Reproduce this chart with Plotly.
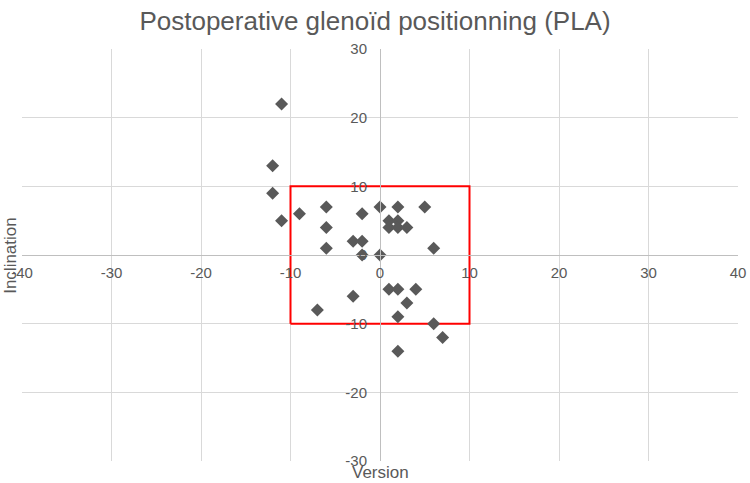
import plotly.graph_objects as go

version = [-11, -12, -12, -11, -9, -6, -6, -6, -2, -3, -2, -2, 0, 0, 2, 1, 2, 1, 2, 3, 5, 6,
           1, 2, 4, -3, 3, -7, 2, 6, 7, 2]
inclination = [22, 13, 9, 5, 6, 7, 4, 1, 6, 2, 2, 0, 0, 7, 7, 5, 5, 4, 4, 4, 7, 1,
               -5, -5, -5, -6, -7, -8, -9, -10, -12, -14]

box_x = [-10, 10, 10, -10, -10]
box_y = [-10, -10, 10, 10, -10]

x_ticks = [-40, -30, -20, -10, 0, 10, 20, 30, 40]
x_ticktext = ["-40", "-30", "-20", "-10", "0", "10", "20", "30", "40"]
y_ticks = [-30, -20, -10, 0, 10, 20, 30]
y_ticktext = ["-30", "-20", "-10", "0", "10", "20", "30"]

title = "Postoperative glenoïd positionning (PLA)"
x_title = "Version"
y_title = "Inclination"

grey = "#595959"
font = "Liberation Sans, Arial, sans-serif"

fig = go.Figure()
fig.add_trace(go.Scatter(x=box_x, y=box_y, mode="lines",
                         line=dict(color="#ff0000", width=2), hoverinfo="skip",
                         showlegend=False))
fig.add_trace(go.Scatter(x=version, y=inclination, mode="markers",
                         marker=dict(symbol="diamond", size=10, color=grey),
                         showlegend=False))

fig.update_layout(
    width=750, height=483,
    margin=dict(l=22, r=12, t=49, b=22, autoexpand=False),
    paper_bgcolor="white", plot_bgcolor="white",
    title=dict(text=title, x=0.5, xanchor="center", y=0.975, yanchor="top",
               font=dict(family=font, size=26, color=grey)),
    font=dict(family=font, size=15, color=grey),
    xaxis=dict(range=[-40, 40], tickvals=x_ticks, ticktext=x_ticktext,
               showgrid=True, gridcolor="#d9d9d9",
               zeroline=False, showline=True, linecolor="#bfbfbf", linewidth=1,
               anchor="free", position=0.5, ticks="", ticklabelstandoff=4,
               tickfont=dict(size=15, color=grey), fixedrange=True),
    yaxis=dict(range=[-30, 30], tickvals=y_ticks, ticktext=y_ticktext,
               showgrid=True, gridcolor="#d9d9d9",
               zeroline=False, showline=True, linecolor="#bfbfbf", linewidth=1,
               anchor="free", position=0.5, ticks="", ticklabelstandoff=10,
               tickfont=dict(size=15, color=grey), fixedrange=True),
    annotations=[
        dict(text=x_title, x=0.5, xref="paper", y=-0.0525, yref="paper", yanchor="bottom",
             borderpad=0, showarrow=False, font=dict(size=17, color=grey)),
        dict(text=y_title, x=-0.017, xref="paper", y=0.5, yref="paper", xanchor="center",
             borderpad=0, textangle=-90, showarrow=False, font=dict(size=17, color=grey)),
    ],
)

fig.write_html("out.html")
